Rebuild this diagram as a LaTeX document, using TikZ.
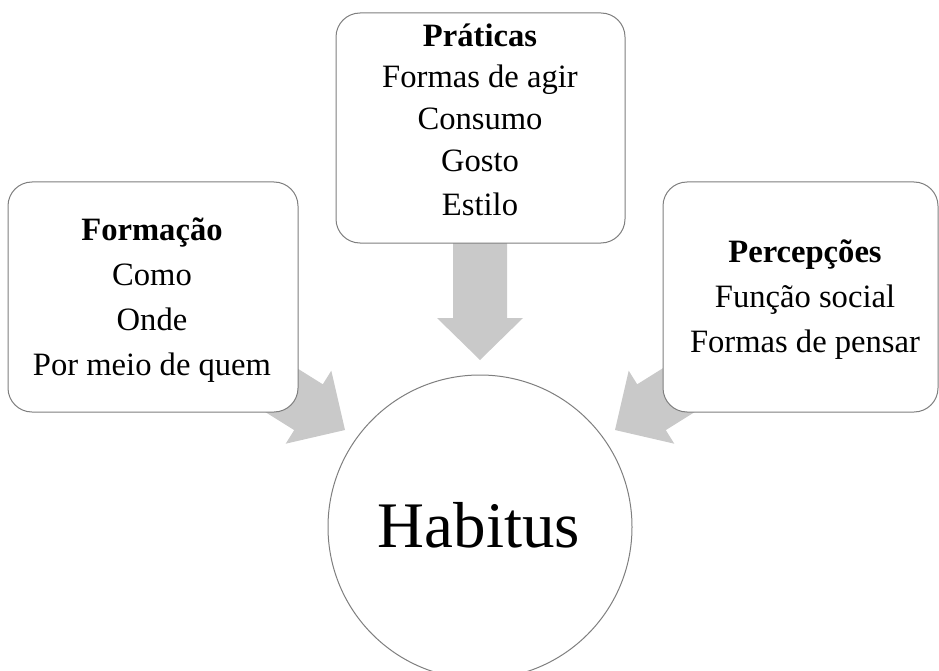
\documentclass[tikz,border=0pt]{standalone}
\usepackage{fontspec}
\setmainfont{Liberation Serif}
\definecolor{boxline}{HTML}{7F7F7F}
\definecolor{arrowgray}{HTML}{C9C9C9}
\tikzset{
  infobox/.style={draw=boxline, line width=1pt, fill=white, rounded corners=24pt, inner sep=0pt},
  txt/.style={inner sep=0pt, anchor=base, font=\fontsize{32.6}{40}\selectfont},
  blockarrow/.style={fill=arrowgray, draw=none},
}
\begin{document}
\begin{tikzpicture}[x=1pt,y=-1pt]
\useasboundingbox (0,0) rectangle (939,671);
% block arrows (behind boxes)
\coordinate (tipL) at (345,430);
\coordinate (tipR) at (615,430);
\coordinate (tipD) at (480,360);
\fill[blockarrow] (tipL) -- (331.3,370.7) -- (322.8,384.3) -- (246.5,336.6) -- (217.9,382.4) -- (294.2,430.1) -- (285.7,443.7) -- cycle;
\fill[blockarrow] (tipR) -- (628.7,370.7) -- (637.2,384.3) -- (713.5,336.6) -- (742.1,382.4) -- (665.8,430.1) -- (674.3,443.7) -- cycle;
\fill[blockarrow] (453,200) -- (507,200) -- (507,318) -- (523,318) -- (tipD) -- (437,318) -- (453,318) -- cycle;
% boxes
\draw[infobox] (8,182) rectangle (298,412);
\draw[infobox] (336,13) rectangle (625,243);
\draw[infobox] (663,182) rectangle (938,412);
% circle
\node[draw=boxline, line width=1pt, fill=white, circle, minimum size=304pt, inner sep=0pt] (hab) at (480,527) {};
\node[inner sep=0pt, anchor=base, font=\fontsize{65}{70}\selectfont] (habt) at (479,547) {Habitus};
% left box text
\node[txt] (f1) at (152,240) {\textbf{Formação}};
\node[txt] (f2) at (152,285) {Como};
\node[txt] (f3) at (152,330) {Onde};
\node[txt] (f4) at (152,375) {Por meio de quem};
% top box text
\node[txt] (p1) at (480,47) {\textbf{Práticas}};
\node[txt] (p2) at (480,88) {Formas de agir};
\node[txt] (p3) at (480,130) {Consumo};
\node[txt] (p4) at (480,172) {Gosto};
\node[txt] (p5) at (480,215) {Estilo};
% right box text
\node[txt] (r1) at (805,262) {\textbf{Percepções}};
\node[txt] (r2) at (805,307) {Função social};
\node[txt] (r3) at (805,352) {Formas de pensar};
\end{tikzpicture}
\end{document}
